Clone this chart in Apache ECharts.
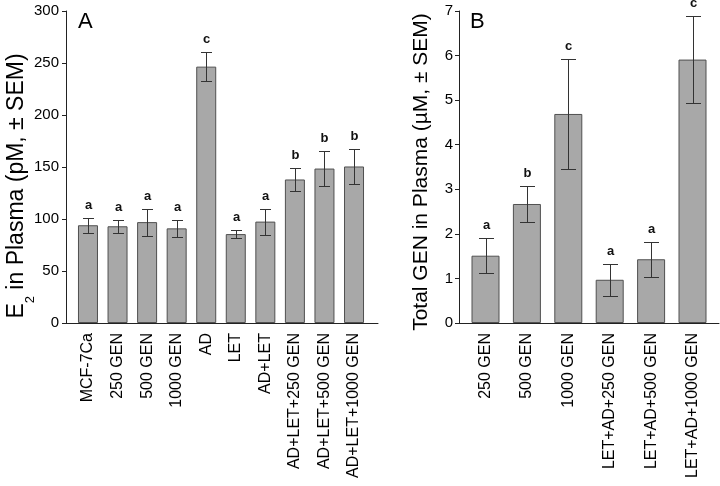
<!DOCTYPE html>
<html>
<head>
<meta charset="utf-8">
<script src="https://cdn.jsdelivr.net/npm/echarts@6/dist/echarts.min.js"></script>
<style>html,body{margin:0;padding:0;background:#fff}#c{width:720px;height:486px}</style>
</head>
<body>
<div id="c"></div>
<script>
// ---- Panel A data ----
const catsA = ['MCF-7Ca', '250 GEN', '500 GEN', '1000 GEN', 'AD', 'LET', 'AD+LET', 'AD+LET+250 GEN', 'AD+LET+500 GEN', 'AD+LET+1000 GEN'];
const meanA = [94, 93, 97, 91, 246.5, 85.5, 97.5, 138, 148.5, 150.5];
const semA = [7, 6, 13, 8.5, 14, 3.5, 12.5, 11.5, 16.5, 17];
const letA = ['a', 'a', 'a', 'a', 'c', 'a', 'a', 'b', 'b', 'b'];
const ticksA = {min: 0, max: 300, interval: 50};
const titleA = ['E', '2', ' in Plasma (pM, ± SEM)'];

// ---- Panel B data ----
const catsB = ['250 GEN', '500 GEN', '1000 GEN', 'LET+AD+250 GEN', 'LET+AD+500 GEN', 'LET+AD+1000 GEN'];
const meanB = [1.51, 2.67, 4.69, 0.97, 1.43, 5.91];
const semB = [0.39, 0.40, 1.24, 0.36, 0.39, 0.98];
const letB = ['a', 'b', 'c', 'a', 'a', 'c'];
const ticksB = {min: 0, max: 7, interval: 1};
const titleB = 'Total GEN in Plasma (µM, ± SEM)';

const FONT = 'Arial, "Liberation Sans", sans-serif';
const AX = '#222';

function errRender(letters, cap) {
  return function (params, api) {
    const i = api.value(0), m = api.value(1), s = api.value(2);
    const t = api.coord([i, m + s]);
    const b = api.coord([i, m - s]);
    const x = Math.round(t[0]) + 0.5;
    const yt = Math.round(t[1]) + 0.5, yb = Math.round(b[1]) + 0.5;
    const st = {stroke: '#333', lineWidth: 1};
    return {
      type: 'group',
      children: [
        {type: 'line', shape: {x1: x, y1: yt, x2: x, y2: yb}, style: st},
        {type: 'line', shape: {x1: x - cap / 2, y1: yt, x2: x + cap / 2, y2: yt}, style: st},
        {type: 'line', shape: {x1: x - cap / 2, y1: yb, x2: x + cap / 2, y2: yb}, style: st},
        {type: 'text', style: {x: x, y: yt - 7, text: letters[i], align: 'center', verticalAlign: 'bottom',
          fontSize: 13, fontWeight: 'bold', fontFamily: FONT, fill: '#111'}}
      ]
    };
  };
}

const chart = echarts.init(document.getElementById('c'), null, {renderer: 'canvas'});

const outerX = (gi) => ({
  type: 'value', gridIndex: gi, min: 0, max: 1,
  axisLine: {show: true, lineStyle: {color: AX, width: 1}},
  axisTick: {show: false}, axisLabel: {show: false}, splitLine: {show: false}
});
const innerX = (gi, cats) => ({
  type: 'category', gridIndex: gi, data: cats,
  axisLine: {show: false}, axisTick: {show: false}, splitLine: {show: false},
  axisLabel: {rotate: 90, margin: 10, fontSize: 16, color: '#000', fontFamily: FONT, interval: 0}
});
const outerY = (gi, tk, margin) => ({
  type: 'value', gridIndex: gi, min: tk.min, max: tk.max, interval: tk.interval,
  axisLine: {show: true, lineStyle: {color: AX}},
  axisTick: {show: true, length: 4, lineStyle: {color: AX}},
  axisLabel: {margin: margin, fontSize: 15, color: '#000', fontFamily: FONT},
  splitLine: {show: false}
});
const innerY = (gi, tk) => ({type: 'value', gridIndex: gi, min: tk.min, max: tk.max, show: false, splitLine: {show: false}});

const G = (o) => Object.assign({outerBoundsMode: 'none', containLabel: false}, o);

const option = {
  animation: false,
  backgroundColor: '#fff',
  grid: [
    G({left: 66, top: 11, width: 312, height: 312}),
    G({left: 73.2, top: 11, width: 295.6, height: 312}),
    G({left: 459, top: 11, width: 260, height: 312}),
    G({left: 464.8, top: 11, width: 248.4, height: 312})
  ],
  xAxis: [outerX(0), innerX(1, catsA), outerX(2), innerX(3, catsB)],
  yAxis: [outerY(0, ticksA, 7), innerY(1, ticksA), outerY(2, ticksB, 6), innerY(3, ticksB)],
  graphic: [
    {type: 'text', left: 78, top: 11, style: {text: 'A', fontSize: 22, fontFamily: FONT, fill: '#000'}},
    {type: 'text', left: 470, top: 11, style: {text: 'B', fontSize: 22, fontFamily: FONT, fill: '#000'}},
    {
      type: 'text', x: 17, y: 186, rotation: Math.PI / 2,
      style: {
        text: '{a|' + titleA[0] + '}{s|' + titleA[1] + '}{a|' + titleA[2] + '}',
        align: 'center', verticalAlign: 'middle', fontFamily: FONT, fill: '#000',
        rich: {
          a: {fontSize: 23, fontFamily: FONT, fill: '#000'},
          s: {fontSize: 13, fontFamily: FONT, fill: '#000', padding: [26, 0, 0, 0]}
        }
      }
    },
    {
      type: 'text', x: 421, y: 172, rotation: Math.PI / 2,
      style: {text: titleB, align: 'center', verticalAlign: 'middle', fontSize: 21, fontFamily: FONT, fill: '#000'}
    }
  ],
  series: [
    {
      type: 'bar', xAxisIndex: 1, yAxisIndex: 1, data: meanA, barWidth: 20,
      itemStyle: {color: '#a8a8a8', borderColor: '#505050', borderWidth: 1}
    },
    {
      type: 'custom', xAxisIndex: 1, yAxisIndex: 1, z: 5,
      data: meanA.map((m, i) => [i, m, semA[i]]),
      renderItem: errRender(letA, 11)
    },
    {
      type: 'bar', xAxisIndex: 3, yAxisIndex: 3, data: meanB, barWidth: 28,
      itemStyle: {color: '#a8a8a8', borderColor: '#505050', borderWidth: 1}
    },
    {
      type: 'custom', xAxisIndex: 3, yAxisIndex: 3, z: 5,
      data: meanB.map((m, i) => [i, m, semB[i]]),
      renderItem: errRender(letB, 15)
    }
  ]
};
chart.setOption(option);
</script>
</body>
</html>
